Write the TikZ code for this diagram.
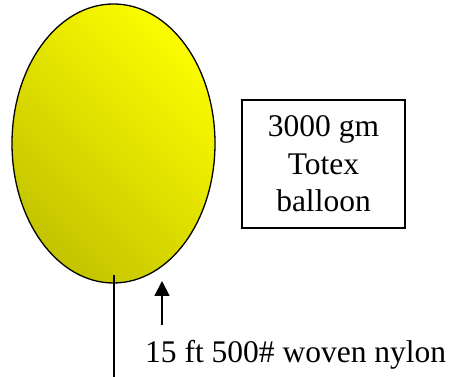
\documentclass[tikz,border=0pt]{standalone}
\usepackage{fontspec}
\setmainfont{Liberation Serif}
\usetikzlibrary{shapes.geometric,arrows.meta}
\definecolor{balllight}{RGB}{252,252,0}
\definecolor{balldark}{RGB}{196,196,0}
\tikzset{
  balloonshape/.style={ellipse, draw=black, line width=1.3pt, inner sep=0pt,
    top color=balllight, bottom color=balldark, shading angle=-45},
  labelbox/.style={draw=black, line width=1.3pt, align=center, inner sep=0pt,
    font=\fontsize{31.5}{37.5}\selectfont},
  plaintext/.style={inner sep=0pt, font=\fontsize{31.5}{37.5}\selectfont},
  tether/.style={line width=1.8pt},
  pointer/.style={line width=1.8pt, -{Triangle[width=15pt,length=15pt]}}
}
\begin{document}
\begin{tikzpicture}[x=1pt,y=1pt]
\useasboundingbox (0,0) rectangle (451,377);
\node[balloonshape, minimum width=203pt, minimum height=279pt] (balloon) at (113.5,233.5) {};
\node[labelbox, minimum width=163pt, minimum height=128pt] (box) at (323.5,213) {3000 gm\\Totex\\balloon};
\node[plaintext, anchor=base west] (nylon) at (145,14) {15 ft 500\# woven nylon};
\coordinate (tetherTop) at (114,102);
\coordinate (tetherEnd) at (114,0);
\draw[tether] (tetherTop) -- (tetherEnd);
\coordinate (arrowTail) at (162,52);
\coordinate (arrowTip) at (162,96);
\draw[pointer] (arrowTail) -- (arrowTip);
\end{tikzpicture}
\end{document}
